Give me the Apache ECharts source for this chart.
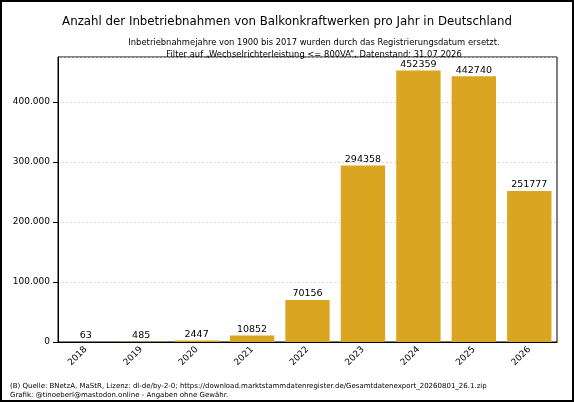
<!DOCTYPE html>
<html><head><meta charset="utf-8">
<script src="https://cdn.jsdelivr.net/npm/echarts@6/dist/echarts.min.js"></script>
<style>html,body{margin:0;padding:0;}#c{width:574px;height:402px;box-sizing:border-box;border:2px solid #000;}</style>
</head><body><div id="c"></div>
<script>
const categories=['2018','2019','2020','2021','2022','2023','2024','2025','2026'];
const values=[63,485,2447,10852,70156,294358,452359,442740,251777];
const yTicks=[0,100000,200000,300000,400000];
const ch=echarts.init(document.getElementById('c'));
const F='DejaVu Sans';
ch.setOption({
 animation:false,
 textStyle:{fontFamily:F},
 title:[
  {text:'Anzahl der Inbetriebnahmen von Balkonkraftwerken pro Jahr in Deutschland',left:'center',top:9,textStyle:{fontFamily:F,fontSize:11.8,fontWeight:'normal',color:'#000'}},
  {text:'Inbetriebnahmejahre von 1900 bis 2017 wurden durch das Registrierungsdatum ersetzt.\nFilter auf „Wechselrichterleistung <= 800VA“, Datenstand: 31.07.2026',left:307,textAlign:'center',top:30,textStyle:{fontFamily:F,fontSize:8.4,fontWeight:'normal',color:'#000',lineHeight:12,align:'center'}},
  {text:'(B) Quelle: BNetzA, MaStR, Lizenz: dl-de/by-2-0; https://download.marktstammdatenregister.de/Gesamtdatenexport_20260801_26.1.zip\nGrafik: @tinoeberl@mastodon.online - Angaben ohne Gewähr.',left:3,top:375,textStyle:{fontFamily:F,fontSize:7,fontWeight:'normal',color:'#000',lineHeight:9}}
 ],
 grid:{left:56,right:15,top:55,bottom:58,outerBoundsMode:'none',containLabel:false,show:true,borderColor:'#000',borderWidth:1,backgroundColor:'transparent'},
 xAxis:{type:'category',data:categories,axisLine:{lineStyle:{color:'#000'}},axisTick:{alignWithLabel:true,lineStyle:{color:'#000'}},axisLabel:{rotate:45,color:'#000',fontSize:9,fontFamily:F,margin:6}},
 yAxis:{type:'value',min:0,max:452359*1.05,interval:100000,name:'Anzahl',nameLocation:'middle',nameGap:44,nameTextStyle:{color:'#000',fontSize:9,fontFamily:F},
  axisLine:{show:true,lineStyle:{color:'#000'}},axisTick:{show:true,lineStyle:{color:'#000'}},
  axisLabel:{color:'#000',fontSize:9,fontFamily:F,showMaxLabel:false,formatter:v=>yTicks.includes(v)?v.toLocaleString('de-DE'):''},
  splitLine:{lineStyle:{type:[2,2],color:'#d0d0d0',width:0.8}}},
 series:[{type:'bar',data:values,barWidth:'80%',itemStyle:{color:'#DAA520'},label:{show:true,position:'top',distance:1,color:'#000',fontSize:9.5,fontFamily:F}}]
});
</script></body></html>
